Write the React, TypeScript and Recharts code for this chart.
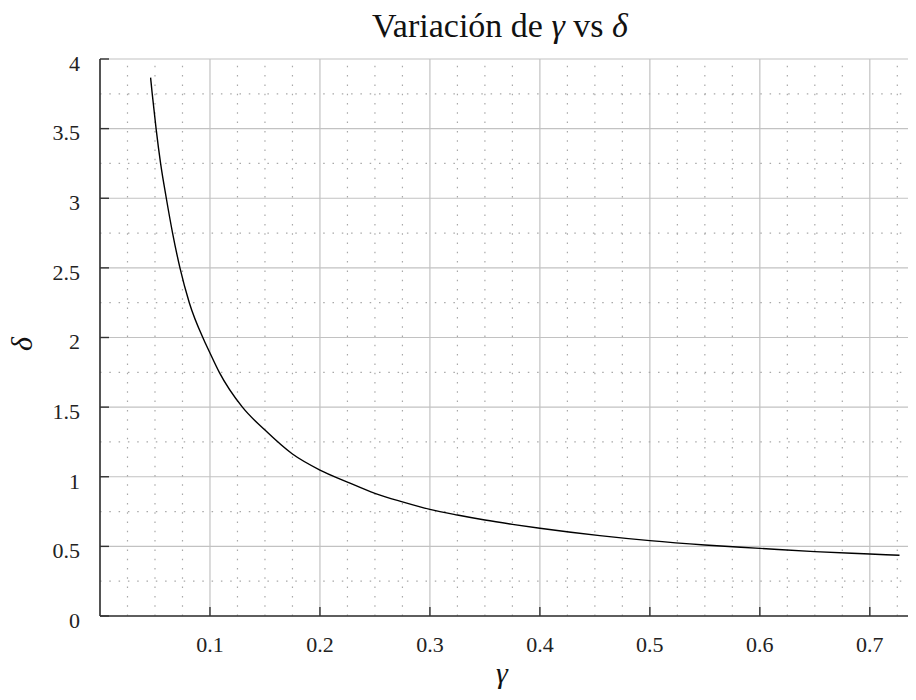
import React from "react";
import {
  LineChart,
  Line,
  XAxis,
  YAxis,
  CartesianGrid,
  ReferenceLine,
} from "recharts";

// values
const gammaValues = [
  0.046, 0.0475, 0.051, 0.0551, 0.0603, 0.066, 0.0727, 0.0812, 0.0945, 0.1,
  0.1085, 0.1295, 0.15, 0.175, 0.2, 0.225, 0.25, 0.275, 0.3, 0.325, 0.35,
  0.375, 0.4, 0.4545, 0.5, 0.55, 0.6, 0.65, 0.7, 0.727,
];
const deltaValues = [
  3.866, 3.75, 3.5, 3.25, 3.0, 2.75, 2.5, 2.25, 1.982, 1.889, 1.75, 1.5, 1.335,
  1.163, 1.048, 0.962, 0.881, 0.82, 0.766, 0.725, 0.689, 0.658, 0.63, 0.577,
  0.541, 0.51, 0.486, 0.462, 0.445, 0.436,
];

const xTicks = [0.1, 0.2, 0.3, 0.4, 0.5, 0.6, 0.7];
const yTicks = [0, 0.5, 1, 1.5, 2, 2.5, 3, 3.5, 4];
const xMinor = [
  0.025, 0.05, 0.075, 0.125, 0.15, 0.175, 0.225, 0.25, 0.275, 0.325, 0.35,
  0.375, 0.425, 0.45, 0.475, 0.525, 0.55, 0.575, 0.625, 0.65, 0.675, 0.725,
];
const yMinor = [0.25, 0.75, 1.25, 1.75, 2.25, 2.75, 3.25, 3.75];

const data = gammaValues.map((g, i) => ({ g, d: deltaValues[i] }));

const FONT = "'Liberation Serif', serif";
const AXIS = "#333";
const GRID = "#c2c2c2";
const MINOR = "#a8a8a8";

export default function App() {
  const tickStyle = { fontSize: 22, fill: "#222", fontFamily: FONT };
  return (
    <div
      style={{
        position: "relative",
        width: 916,
        height: 700,
        margin: -8,
        overflow: "hidden",
        background: "#fff",
      }}
    >
      <div
        style={{
          position: "absolute",
          left: 0,
          top: 9,
          width: 1000,
          textAlign: "center",
          fontFamily: FONT,
          fontSize: 34,
          lineHeight: "34px",
          color: "#111",
        }}
      >
        Variación de <i>γ</i> vs <i>δ</i>
      </div>
      <div
        style={{
          position: "absolute",
          left: 452,
          top: 658,
          width: 100,
          textAlign: "center",
          fontFamily: FONT,
          fontSize: 30,
          lineHeight: "30px",
          fontStyle: "italic",
          color: "#111",
        }}
      >
        γ
      </div>
      <div
        style={{
          position: "absolute",
          left: -28,
          top: 329,
          width: 100,
          textAlign: "center",
          fontFamily: FONT,
          fontSize: 30,
          lineHeight: "30px",
          fontStyle: "italic",
          color: "#111",
          transform: "rotate(-90deg)",
        }}
      >
        δ
      </div>
      <LineChart
        width={916}
        height={700}
        data={data}
        margin={{ top: 59, right: 0, left: 0, bottom: 44 }}
      >
        <CartesianGrid stroke={GRID} strokeWidth={1.2} />
        {xMinor.map((v) => (
          <ReferenceLine
            key={`xm-${v}`}
            x={v}
            stroke={MINOR}
            strokeWidth={1.2}
            strokeDasharray="1.5 7.8"
          />
        ))}
        {yMinor.map((v) => (
          <ReferenceLine
            key={`ym-${v}`}
            y={v}
            stroke={MINOR}
            strokeWidth={1.2}
            strokeDasharray="1.5 7.8"
          />
        ))}
        <XAxis
          type="number"
          dataKey="g"
          domain={[0, 0.742]}
          ticks={xTicks}
          interval={0}
          allowDataOverflow
          height={40}
          tickSize={-9}
          tickMargin={29}
          axisLine={{ stroke: AXIS, strokeWidth: 1.6 }}
          tickLine={{ stroke: AXIS, strokeWidth: 1.4 }}
          tick={tickStyle}
        />
        <YAxis
          type="number"
          domain={[0, 4]}
          ticks={yTicks}
          interval={0}
          width={100}
          tickSize={-9}
          tickMargin={29}
          tickFormatter={(v: number) => String(v)}
          axisLine={{ stroke: AXIS, strokeWidth: 1.6 }}
          tickLine={{ stroke: AXIS, strokeWidth: 1.4 }}
          tick={{ ...tickStyle, dy: 4 }}
        />
        <Line
          type="monotone"
          dataKey="d"
          stroke="#000"
          strokeWidth={1.4}
          dot={false}
          isAnimationActive={false}
        />
      </LineChart>
    </div>
  );
}
